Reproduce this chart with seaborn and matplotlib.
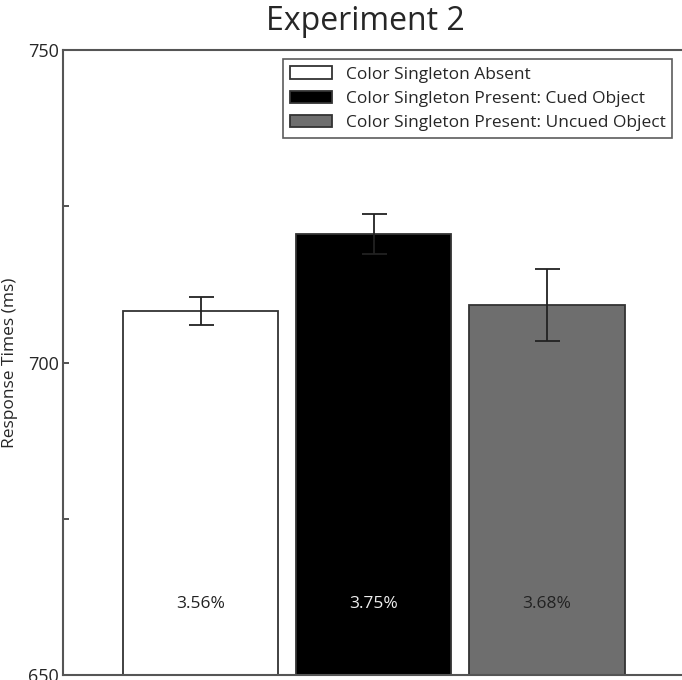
"""
Experiment 2: response times by color singleton condition.
"""

import matplotlib
matplotlib.use('Agg')
import matplotlib.pyplot as plt
import matplotlib.ticker as mticker
import seaborn as sns
import pandas as pd

conditions = ['Color Singleton Absent',
              'Color Singleton Present: Cued Object',
              'Color Singleton Present: Uncued Object']
rt_means = [708.2, 720.6, 709.2]
rt_errors = [2.2, 3.2, 5.8]
error_rates = ['3.56%', '3.75%', '3.68%']
bar_colors = ['#ffffff', '#000000', '#6e6e6e']
label_colors = ['#222222', '#eeeeee', '#222222']


def make_chart():
    sns.set_style('white')
    plt.rcParams['font.family'] = ['Open Sans', 'DejaVu Sans']

    df = pd.DataFrame({'condition': conditions, 'rt': rt_means})

    fig = plt.figure(figsize=(6.82, 6.80), dpi=100)
    ax = fig.add_axes([63 / 682, 5 / 680, (692 - 63) / 682, 625 / 680])

    sns.barplot(data=df, x='condition', y='rt', hue='condition',
                palette=bar_colors, edgecolor='#333333', linewidth=1.3,
                width=0.9, errorbar=None, legend=True, ax=ax)

    ax.errorbar(range(len(conditions)), rt_means, yerr=rt_errors,
                fmt='none', ecolor='#222222', elinewidth=1.3, capsize=9,
                capthick=1.3)

    for i, txt in enumerate(error_rates):
        ax.text(i, 661.4, txt, ha='center', va='center', fontsize=12.5,
                color=label_colors[i])

    ax.set_ylim(650, 750)
    ax.set_xlim(-0.795, 2.84)
    ax.yaxis.set_major_locator(mticker.MultipleLocator(50))
    ax.yaxis.set_minor_locator(mticker.MultipleLocator(25))
    ax.tick_params(axis='y', which='both', direction='in', length=4,
                   width=1.2, color='#333333', left=True, labelsize=13,
                   pad=3)
    ax.tick_params(axis='x', bottom=False, labelbottom=False)
    ax.set_xlabel('')
    ax.set_ylabel('Response Times (ms)', fontsize=12.5)
    ax.yaxis.set_label_coords(-0.0715, 0.5)

    for side in ['left', 'top', 'bottom', 'right']:
        ax.spines[side].set_color('#555555')
        ax.spines[side].set_linewidth(1.5)

    leg = ax.legend(loc='upper left', bbox_to_anchor=((283 - 63) / 629, 0.985),
                    fontsize=12.5, frameon=True, fancybox=False,
                    borderpad=0.4, labelspacing=0.45, handlelength=2.4,
                    handleheight=0.75, handletextpad=0.8, borderaxespad=0)
    leg.get_frame().set_edgecolor('#333333')
    leg.get_frame().set_linewidth(1.2)

    fig.text(365 / 682, 1 - 22 / 680, 'Experiment 2', ha='center',
             va='center', fontsize=23)

    fig.savefig('out.png', dpi=100)
    plt.close(fig)


if __name__ == '__main__':
    make_chart()
